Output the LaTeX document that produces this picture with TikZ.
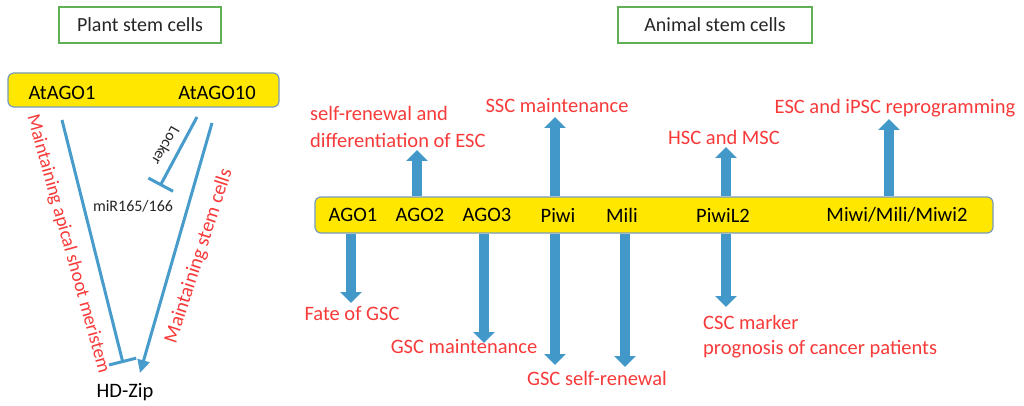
\documentclass[tikz,border=0pt]{standalone}
\usepackage{fontspec}
\setmainfont{Carlito}
\usetikzlibrary{arrows.meta}
\definecolor{barY}{RGB}{255,231,0}
\definecolor{barE}{RGB}{120,155,185}
\definecolor{lblue}{RGB}{72,156,204}
\definecolor{ablue}{RGB}{66,152,200}
\definecolor{tred}{RGB}{248,58,58}
\definecolor{tgreen}{RGB}{96,176,86}
\begin{document}
\begin{tikzpicture}[x=1pt,y=-1pt,
  bar/.style={draw=barE, line width=1.2pt, fill=barY, rounded corners=6pt, inner sep=0},
  gene/.style={font=\fontsize{20.5}{24}\selectfont, text=black, inner sep=0},
  small/.style={font=\fontsize{16}{19}\selectfont, text=black!85, inner sep=0},
  rlab/.style={font=\fontsize{20.5}{24}\selectfont, text=tred, inner sep=0},
  title/.style={draw=tgreen, line width=2.8pt, fill=white, font=\fontsize{20}{24}\selectfont, text=black!85, inner sep=0},
  blk/.style={draw=ablue, line width=10pt, -{Triangle[width=21pt,length=11pt]}},
  pline/.style={draw=lblue, line width=3pt},
]
\useasboundingbox[fill=white] (0,0) rectangle (1024,406);

% titles
\node[title, minimum width=162pt, minimum height=36pt] (tplant) at (140,25) {Plant stem cells};
\node[title, minimum width=194pt, minimum height=36pt] (tanimal) at (715,25) {Animal stem cells};

% ---------------- plant part ----------------
\node[bar, minimum width=271pt, minimum height=34pt] (pb) at (143.5,90) {};
\node[gene] (atago1) at (62,93) {AtAGO1};
\node[gene] (atago10) at (217,93) {AtAGO10};
\node[small] (mir) at (133,206) {miR165/166};
\node[gene] (hdzip) at (125,392) {HD-Zip};

\coordinate (p1s) at (62,120);
\coordinate (p1e) at (123,363);
\coordinate (p2s) at (197,117);
\coordinate (p2e) at (160,186);
\coordinate (p3s) at (212,123);
\coordinate (p3e) at (140,373);

\draw[pline, -{Bar[width=28pt]}] (p1s) -- (p1e);
\draw[pline, -{Bar[width=28pt]}] (p2s) -- (p2e);
\draw[pline, -{Triangle[width=12pt,length=13pt]}] (p3s) -- (p3e);

\node[small, font=\fontsize{15.5}{18}\selectfont, rotate=-120] (locker) at (166,146) {Locker};
\node[rlab, font=\fontsize{19}{22}\selectfont, rotate=-74.4] (lab1) at (68,244) {Maintaining apical shoot meristem};
\node[rlab, font=\fontsize{20}{22}\selectfont, rotate=72] (lab2) at (199,256) {Maintaining stem cells};

% ---------------- animal part ----------------
\node[bar, minimum width=678pt, minimum height=36pt] (rb) at (654,215) {};
\node[gene] (ago1) at (353,215) {AGO1};
\node[gene] (ago2) at (420,215) {AGO2};
\node[gene] (ago3) at (487,215) {AGO3};
\node[gene] (piwi) at (558,215) {Piwi};
\node[gene] (mili) at (622,215) {Mili};
\node[gene] (piwil2) at (723,215) {PiwiL2};
\node[gene] (miwi) at (897,215) {Miwi/Mili/Miwi2};

% arrow tips
\coordinate (a1) at (351,303);
\coordinate (a2) at (417,150);
\coordinate (a3) at (484,343);
\coordinate (a4u) at (555,117);
\coordinate (a4d) at (555,365);
\coordinate (a5) at (625,367);
\coordinate (a6u) at (726,147);
\coordinate (a6d) at (726,307);
\coordinate (a7) at (889,119);

\draw[blk] (a1 |- rb.south) -- (a1);
\draw[blk] (a2 |- rb.north) -- (a2);
\draw[blk] (a3 |- rb.south) -- (a3);
\draw[blk] (a4u |- rb.north) -- (a4u);
\draw[blk] (a4d |- rb.south) -- (a4d);
\draw[blk] (a5 |- rb.south) -- (a5);
\draw[blk] (a6u |- rb.north) -- (a6u);
\draw[blk] (a6d |- rb.south) -- (a6d);
\draw[blk] (a7 |- rb.north) -- (a7);

% red labels
\node[rlab, align=left, anchor=west, font=\fontsize{20.5}{27}\selectfont] (esc1) at (310,127) {self-renewal and\\differentiation of ESC};
\node[rlab] (ssc) at (557,106) {SSC maintenance};
\node[rlab] (hsc) at (724,137) {HSC and MSC};
\node[rlab] (ipsc) at (895,108) {ESC and iPSC reprogramming};
\node[rlab] (fate) at (352,314) {Fate of GSC};
\node[rlab] (gscm) at (464,347) {GSC maintenance};
\node[rlab] (gscs) at (597,378) {GSC self-renewal};
\node[rlab, align=left, anchor=west, font=\fontsize{20.5}{25}\selectfont] (csc) at (703,337) {CSC marker\\prognosis of cancer patients};
\end{tikzpicture}
\end{document}
